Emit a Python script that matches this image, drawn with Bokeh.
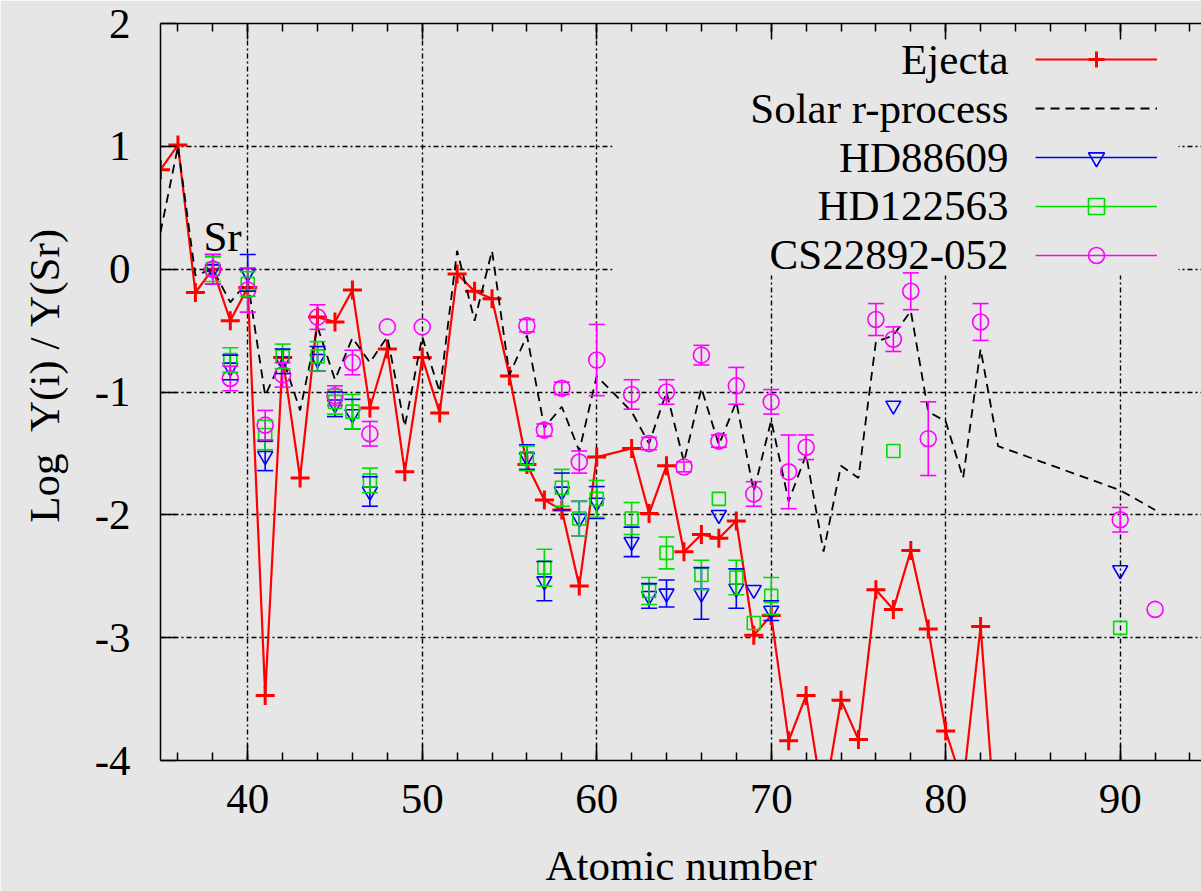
from bokeh.plotting import figure
from bokeh.models import (ColumnDataSource, Whisker, TeeHead, Label, Legend, LegendItem,
                          BoxAnnotation, LinearAxis, Range1d, FixedTicker, CustomJSTickFormatter)
from bokeh.embed import file_html
from bokeh.resources import INLINE

# ---------------- data ----------------
ejecta_z = [35, 36, 37, 38, 39, 40, 41, 42, 43, 44, 45, 46, 47, 48, 49, 50, 51, 52, 53, 54, 55, 56,
            57, 58, 59, 60, 62, 63, 64, 65, 66, 67, 68, 69, 70, 71, 72, 73, 74, 75, 76, 77, 78, 79,
            80, 81, 82, 83]
ejecta_y = [0.81, 1.01, -0.19, 0.00, -0.42, -0.15, -3.47, -0.72, -1.70, -0.39, -0.43, -0.17, -1.13,
            -0.65, -1.65, -0.72, -1.17, -0.04, -0.18, -0.24, -0.87, -1.59, -1.88, -1.96, -2.58,
            -1.53, -1.46, -1.99, -1.60, -2.30, -2.16, -2.19, -2.05, -2.98, -2.82, -3.84, -3.47,
            -4.35, -3.51, -3.83, -2.61, -2.77, -2.29, -2.93, -3.76, -4.20, -2.91, -4.80]

solar_z = [35, 36, 37, 38, 39, 40, 41, 42, 43, 44, 45, 46, 47, 48, 49, 50, 51, 52, 53, 54, 55, 56,
           57, 58, 59, 60, 62, 63, 64, 65, 66, 67, 68, 69, 70, 71, 72, 73, 74, 75, 76, 77, 78, 79,
           80, 81, 82, 83, 90, 92]
solar_y = [0.30, 1.00, -0.05, 0.00, -0.27, -0.10, -1.03, -0.72, -1.15, -0.47, -0.90, -0.56, -0.76,
           -0.55, -1.28, -0.55, -1.00, 0.15, -0.42, 0.15, -0.86, -0.54, -1.29, -1.12, -1.48, -0.87,
           -1.16, -1.42, -1.00, -1.57, -0.97, -1.43, -1.08, -1.81, -1.23, -1.89, -1.51, -2.30,
           -1.60, -1.70, -0.59, -0.54, -0.34, -1.16, -1.24, -1.70, -0.65, -1.44, -1.80, -1.96]

hd88609_z = [38, 39, 40, 41, 42, 44, 45, 46, 47, 56, 57, 58, 59, 60, 62, 63, 64, 66, 67, 68, 69, 70, 77, 90]
hd88609_y = [0.00, -0.80, -0.03, -1.52, -0.75, -0.73, -1.10, -1.18, -1.81, -1.53, -2.54, -1.81, -2.03,
             -1.90, -2.22, -2.66, -2.64, -2.64, -2.00, -2.60, -2.61, -2.78, -1.11, -2.45]
hd88609_err = [0.12, 0.10, 0.15, 0.12, 0.10, 0.10, 0.10, 0.12, 0.12, 0.10, 0.16, 0.15, 0.14, 0.13,
               0.12, 0.10, 0.11, 0.21, 0.0, 0.16, 0.0, 0.08, 0.0, 0.0]

hd122563_z = [38, 39, 40, 41, 42, 44, 45, 46, 47, 56, 57, 58, 59, 60, 62, 63, 64, 66, 67, 68, 69, 70, 77, 90]
hd122563_y = [0.00, -0.74, -0.12, -1.35, -0.71, -0.71, -1.08, -1.16, -1.72, -1.54, -2.43, -1.78, -2.03,
              -1.87, -2.03, -2.62, -2.31, -2.49, -1.87, -2.51, -2.88, -2.66, -1.48, -2.92]
hd122563_err = [0.10, 0.10, 0.10, 0.12, 0.10, 0.12, 0.10, 0.14, 0.10, 0.10, 0.15, 0.15, 0.14, 0.15,
                0.13, 0.11, 0.13, 0.12, 0.0, 0.14, 0.0, 0.15, 0.0, 0.0]

cs22892_z = [38, 39, 40, 41, 42, 44, 45, 46, 47, 48, 50, 56, 57, 58, 59, 60, 62, 63, 64, 65, 66, 67,
             68, 69, 70, 71, 72, 76, 77, 78, 79, 82, 90, 92]
cs22892_y = [0.00, -0.89, -0.17, -1.27, -0.86, -0.39, -1.03, -0.76, -1.34, -0.47, -0.47, -0.46, -1.31,
             -0.97, -1.57, -0.74, -1.02, -1.42, -1.00, -1.61, -0.70, -1.40, -0.95, -1.83, -1.08,
             -1.65, -1.45, -0.41, -0.57, -0.18, -1.38, -0.43, -2.04, -2.77]
cs22892_err = [0.12, 0.10, 0.18, 0.12, 0.10, 0.10, 0.08, 0.10, 0.10, 0.0, 0.0, 0.05, 0.05, 0.05, 0.09,
               0.29, 0.12, 0.05, 0.10, 0.04, 0.08, 0.05, 0.15, 0.10, 0.10, 0.30, 0.10, 0.13, 0.10,
               0.15, 0.30, 0.15, 0.10, 0.0]

x_ticks = [40, 50, 60, 70, 80, 90]
x_minor = list(range(36, 95, 2))
y_ticks = [-4, -3, -2, -1, 0, 1, 2]
y_tick_labels = ["-4", "-3", "-2", "-1", "0", "1", "2"]
legend_names = ["Ejecta", "Solar r-process", "HD88609", "HD122563", "CS22892-052"]

# ---------------- style ----------------
BG = "#e6e6e6"
FONT = "Liberation Serif"
FS = "43px"
RED = "#ff0000"
BLUE = "#0000ff"
GREEN = "#00dd00"
MAGENTA = "#ff00ff"
NB = "\u00a0"

p = figure(width=1201, height=891, x_range=Range1d(35, 94.66), y_range=Range1d(-4, 2),
           output_backend="svg", toolbar_location=None,
           min_border_left=160, min_border_right=0, min_border_top=23, min_border_bottom=128,
           background_fill_color=BG, border_fill_color=BG)
p.outline_line_color = None

p.xaxis.ticker = FixedTicker(ticks=x_ticks, minor_ticks=x_minor)
p.yaxis.ticker = FixedTicker(ticks=y_ticks)
p.yaxis.major_label_overrides = dict(zip(y_ticks, y_tick_labels))
for ax in (p.xaxis[0], p.yaxis[0]):
    ax.axis_line_color = "black"
    ax.axis_line_width = 1.5
    ax.major_tick_in = 16
    ax.major_tick_out = 0
    ax.minor_tick_in = 8
    ax.minor_tick_out = 0
    ax.major_tick_line_width = 1.5
    ax.minor_tick_line_width = 1.5
    ax.major_label_text_font = FONT
    ax.major_label_text_font_size = FS
    ax.major_label_text_color = "black"
    ax.axis_label_text_font = FONT
    ax.axis_label_text_font_size = FS
    ax.axis_label_text_font_style = "normal"
    ax.axis_label_text_color = "black"
p.yaxis.minor_tick_line_color = None
p.yaxis.major_label_standoff = 30
p.yaxis.axis_label = NB * 3 + "Log" + NB * 2 + "Y(i)" + NB + "/" + NB + "Y(Sr)"
p.yaxis.axis_label_standoff = 24
p.xaxis.major_label_standoff = 24
p.xaxis.axis_label = "Atomic number"
p.xaxis.axis_label_standoff = 26

top = LinearAxis(ticker=FixedTicker(ticks=x_ticks, minor_ticks=x_minor),
                 formatter=CustomJSTickFormatter(code="return ''"),
                 axis_line_color="black", axis_line_width=1.5, major_tick_in=16, major_tick_out=0,
                 minor_tick_in=8, minor_tick_out=0, major_tick_line_width=1.5,
                 minor_tick_line_width=1.5, major_label_standoff=0)
p.add_layout(top, "above")

for g in (p.xgrid[0], p.ygrid[0]):
    g.grid_line_color = "black"
    g.grid_line_width = 1.4
    g.grid_line_dash = "5 3 2 3"
p.ygrid.ticker = FixedTicker(ticks=[-3, -2, -1, 0, 1])

# legend background (covers grid only)
p.add_layout(BoxAnnotation(left=452, right=1018, top=728, bottom=485,
                           left_units="screen", right_units="screen",
                           top_units="screen", bottom_units="screen",
                           fill_color=BG, fill_alpha=1, line_color=None, level="underlay"))

# ---------------- data renderers ----------------
r_ej_line = p.line(ejecta_z, ejecta_y, line_color=RED, line_width=2.2)
r_ej_pts = p.scatter(ejecta_z, ejecta_y, marker="cross", size=19, line_color=RED, line_width=3)
r_solar = p.line(solar_z, solar_y, line_color="black", line_width=1.8, line_dash="9 6")


def obs(zs, ys, errs, color, marker, size):
    zz = [z for z, e in zip(zs, errs) if e > 0]
    lo = [y - e for y, e in zip(ys, errs) if e > 0]
    hi = [y + e for y, e in zip(ys, errs) if e > 0]
    src = ColumnDataSource(dict(z=zz, lo=lo, hi=hi))
    stems = p.segment(x0="z", y0="lo", x1="z", y1="hi", source=src, line_color=color, line_width=1.6)
    p.add_layout(Whisker(source=src, base="z", lower="lo", upper="hi", line_alpha=0,
                         upper_head=TeeHead(size=16, line_color=color, line_width=1.6),
                         lower_head=TeeHead(size=16, line_color=color, line_width=1.6),
                         level="glyph"))
    pts = p.scatter(zs, ys, marker=marker, size=size, fill_color=None, line_color=color, line_width=1.6)
    return stems, pts


r_hd1 = obs(hd88609_z, hd88609_y, hd88609_err, BLUE, "inverted_triangle", 15)
r_hd2 = obs(hd122563_z, hd122563_y, hd122563_err, GREEN, "square", 13)
r_cs = obs(cs22892_z, cs22892_y, cs22892_err, MAGENTA, "circle", 16)

p.add_layout(Label(x=37.46, y=0.27, text="Sr", text_font=FONT, text_font_size=FS,
                   text_baseline="alphabetic", text_align="left", text_color="black"))

# ---------------- legend (samples via Bokeh legend, texts right-aligned on the left) -----
legend = Legend(items=[LegendItem(label=" ", renderers=[r_ej_line, r_ej_pts]),
                       LegendItem(label=" ", renderers=[r_solar]),
                       LegendItem(label=" ", renderers=list(r_hd1)),
                       LegendItem(label=" ", renderers=list(r_hd2)),
                       LegendItem(label=" ", renderers=list(r_cs))],
                location=(875, 485), glyph_width=122, glyph_height=40, spacing=9,
                padding=0, margin=0, label_standoff=0, label_width=0, label_height=40,
                label_text_font_size="2px", border_line_color=None, background_fill_alpha=0)
p.add_layout(legend)

for i, name in enumerate(legend_names):
    p.add_layout(Label(x=848, y=763 - 62 - i * 48.8, x_units="screen", y_units="screen",
                       text=name, text_align="right", text_baseline="middle",
                       text_font=FONT, text_font_size=FS, text_color="black"))

open("out.html", "w").write(file_html(p, INLINE))
